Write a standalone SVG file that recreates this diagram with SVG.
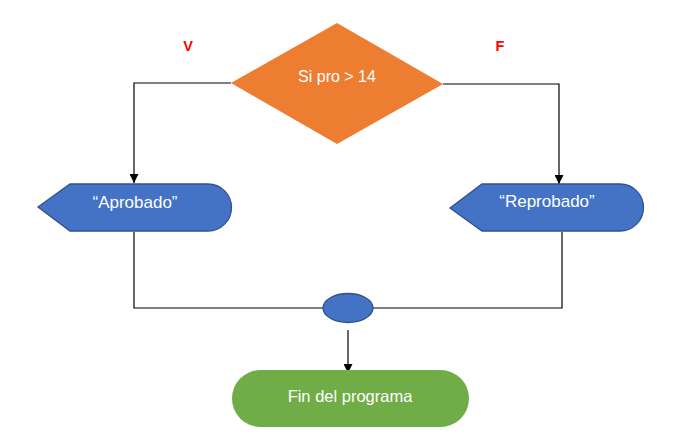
<svg xmlns="http://www.w3.org/2000/svg" width="679" height="435" viewBox="0 0 679 435">
<style>
.lbl{font-family:"Liberation Sans",Arial,sans-serif;font-size:16px;fill:#ffffff;text-anchor:middle}
.vf{font-family:"Liberation Sans",Arial,sans-serif;font-size:14.5px;font-weight:bold;fill:#ff0000;text-anchor:middle}
.conn{fill:none;stroke:#000000;stroke-width:1.2}
.blue{fill:#4472C4;stroke:#2F528F;stroke-width:1.3}
</style>
<defs>
<marker id="arr" viewBox="0 0 10 10" refX="10" refY="5" markerWidth="9" markerHeight="9" markerUnits="userSpaceOnUse" orient="auto">
<path d="M0,0 L10,5 L0,10 Z" fill="#000000"/>
</marker>
</defs>
<rect width="679" height="435" fill="#ffffff"/>
<g id="connectors">
<path class="conn" d="M231,83 H134 V183" marker-end="url(#arr)"/>
<path class="conn" d="M443,84 H559 V184" marker-end="url(#arr)"/>
<path class="conn" d="M134,232 V308 H562 V232"/>
<path class="conn" d="M348,330 V373" marker-end="url(#arr)"/>
</g>
<g id="labels">
<text class="vf" x="188" y="51">V</text>
<text class="vf" x="500" y="51">F</text>
</g>
<g id="decision">
<polygon points="337,23 443,84 337,144 231,83" fill="#ED7D31"/>
<text class="lbl" x="337" y="82">Si pro &gt; 14</text>
</g>
<g id="aprobado">
<path class="blue" d="M38,207 L70,184 H208 A23.5,23.5 0 0 1 208,231 H70 Z"/>
<text class="lbl" x="135" y="208" style="font-size:17px">“Aprobado”</text>
</g>
<g id="reprobado">
<path class="blue" d="M450,208 L482,184 H620 A23.5,23.5 0 0 1 620,231 H482 Z"/>
<text class="lbl" x="547" y="207" style="font-size:17px">“Reprobado”</text>
</g>
<g id="junction">
<ellipse class="blue" cx="348" cy="308" rx="25" ry="14.5"/>
</g>
<g id="fin">
<rect x="232" y="370" width="237" height="57" rx="28.5" ry="28.5" fill="#70AD47"/>
<text class="lbl" x="350" y="402" style="font-size:16.5px">Fin del programa</text>
</g>
</svg>
